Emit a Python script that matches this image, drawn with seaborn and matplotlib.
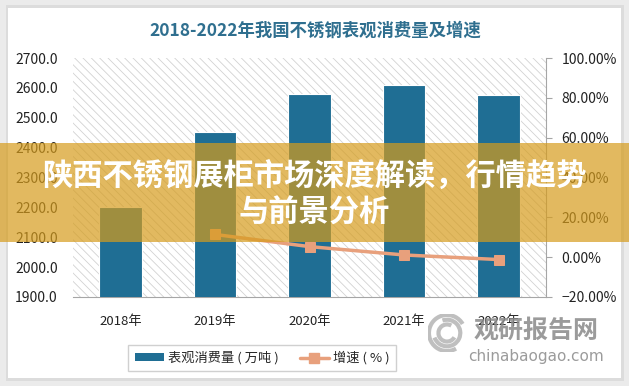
import numpy as np
import pandas as pd
import seaborn as sns
import matplotlib.pyplot as plt
from matplotlib.patches import Rectangle, Patch, Arc
from matplotlib.lines import Line2D
from matplotlib.ticker import PercentFormatter, FixedLocator

# data
years = ['2018年', '2019年', '2020年', '2021年', '2022年']
consumption = [2200, 2453, 2580, 2608, 2577]
growth_years = ['2019年', '2020年', '2021年', '2022年']
growth = [11.4, 5.3, 1.1, -1.2]
left_ticks = [1900, 2000, 2100, 2200, 2300, 2400, 2500, 2600, 2700]
right_ticks = [-20, 0, 20, 40, 60, 80, 100]

title = '2018-2022年我国不锈钢表观消费量及增速'
bar_label = '表观消费量 ( 万吨 )'
line_label = '增速 ( % )'
banner1 = '陕西不锈钢展柜市场深度解读，行情趋势'
banner2 = '与前景分析'

bar_color = '#1f6e94'
line_color = '#e8a07c'
axis_gray = '#a6a6a6'

sns.set_style('white')
plt.rcParams['font.family'] = ['Noto Sans CJK SC', 'DejaVu Sans']
plt.rcParams['hatch.linewidth'] = 0.6

W, H = 629, 386
fig = plt.figure(figsize=(W / 100, H / 100), dpi=100)
fig.patch.set_facecolor('#ebebeb')

# white card with soft shadow (kept behind the axes)
fig.patches.append(Rectangle((6 / W, 1 - 381 / H), 618 / W, 376 / H, transform=fig.transFigure,
                             facecolor='#dcdcdc', edgecolor='none', zorder=-2))
fig.patches.append(Rectangle((8 / W, 1 - 378 / H), 613 / W, 370 / H, transform=fig.transFigure,
                             facecolor='white', edgecolor='none', zorder=-1))

ax = fig.add_axes([73 / W, 1 - 297 / H, 473 / W, 239 / H])
ax.set_facecolor('none')
ax.add_patch(Rectangle((0, 0), 1, 1, transform=ax.transAxes, facecolor='white',
                       edgecolor='#d2d2d2', hatch='\\\\\\\\', linewidth=0, zorder=0))

sns.barplot(x=years, y=consumption, ax=ax, color=bar_color, width=0.45, saturation=1,
            edgecolor='white', linewidth=0.8, zorder=3)
ax.set_xlim(-0.5, len(years) - 0.5)
ax.set_ylim(left_ticks[0], left_ticks[-1])
ax.yaxis.set_major_locator(FixedLocator(left_ticks))
ax.set_yticklabels([f'{v:.1f}' for v in left_ticks])
ax.tick_params(axis='y', length=0, pad=11, labelsize=10, labelcolor='#222222')
ax.tick_params(axis='x', length=0, pad=13, labelsize=9.5, labelcolor='#222222')
for s in ['left', 'top', 'right']:
    ax.spines[s].set_visible(False)
ax.spines['bottom'].set_color(axis_gray)
ax.set_xlabel('')
ax.set_ylabel('')

ax2 = ax.twinx()
pos = [years.index(y) for y in growth_years]
sns.lineplot(x=pos, y=growth, ax=ax2, color=line_color, linewidth=2.5, marker='s',
             markersize=7, markeredgecolor=line_color, zorder=5)
ax2.set_ylim(right_ticks[0], right_ticks[-1])
ax2.yaxis.set_major_locator(FixedLocator(right_ticks))
ax2.yaxis.set_major_formatter(PercentFormatter(decimals=2))
ax2.tick_params(axis='y', length=4, color=axis_gray, pad=7, labelsize=10, labelcolor='#222222')
for s in ['left', 'top', 'bottom']:
    ax2.spines[s].set_visible(False)
ax2.spines['right'].set_color(axis_gray)
ax2.set_xlim(-0.5, len(years) - 0.5)

fig.text(315 / W, 1 - 31 / H, title, ha='center', va='center', fontsize=12.5,
         fontweight='bold', color='#2f6f8f')

handles = [Patch(facecolor=bar_color, edgecolor='none'),
           Line2D([0], [0], color=line_color, linewidth=2.5, marker='s', markersize=7)]
fig.legend(handles, [bar_label, line_label], loc='center', bbox_to_anchor=(262 / W, 1 - 358 / H),
           ncol=2, frameon=True, fancybox=False, edgecolor='#d0d0d0', framealpha=1,
           fontsize=9.5, handlelength=2.2, handleheight=0.5, handletextpad=0.3,
           columnspacing=1.6, borderpad=0.5)

# watermark
lax = fig.add_axes([428 / W, 1 - 352 / H, 38 / W, 38 / H])
lax.set_xlim(-1, 1)
lax.set_ylim(-1, 1)
lax.axis('off')
for r, a1, a2 in [(0.95, 30, 300), (0.7, 200, 470), (0.45, 60, 330)]:
    lax.add_patch(Arc((0, 0), 2 * r, 2 * r, theta1=a1, theta2=a2, color='#b0b0b0', linewidth=3, alpha=0.8))
fig.text(536 / W, 1 - 331 / H, '观研报告网', ha='center', va='center', fontsize=18,
         fontweight='bold', color='#8a8a8a', alpha=0.85, zorder=8)
fig.text(536 / W, 1 - 357 / H, 'chinabaogao.com', ha='center', va='center', fontsize=11,
         color='#8a8a8a', alpha=0.85, family=['DejaVu Sans'], zorder=8)

# banner overlay
fig.patches.append(Rectangle((0, 1 - 242 / H), 1, 99 / H, transform=fig.transFigure,
                             facecolor='#d69c1c', edgecolor='none', alpha=0.7, zorder=10))
fig.text(314 / W, 1 - 176 / H, banner1, ha='center', va='center', fontsize=21.8,
         fontweight='heavy', color='white', zorder=11)
fig.text(314 / W, 1 - 213 / H, banner2, ha='center', va='center', fontsize=21.8,
         fontweight='heavy', color='white', zorder=11)

fig.savefig('out.png', dpi=100)
